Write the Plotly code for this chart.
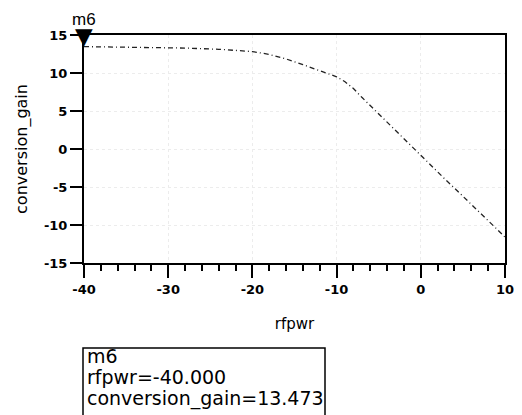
import plotly.graph_objects as go

# ---- data ----
rfpwr = [-40, -36, -32, -28, -24, -22, -20, -18, -16, -14, -12, -10, -9, -8, -7, -6,
         -5, -4, -3, -2, -1, 0, 1, 2, 3, 4, 5, 6, 7, 8, 9, 10]
conversion_gain = [13.473, 13.44, 13.38, 13.28, 13.12, 13.0, 12.82, 12.45, 11.85, 11.1,
                   10.3, 9.5, 8.85, 7.95, 6.8, 5.7, 4.6, 3.5, 2.4, 1.3, 0.2, -0.9,
                   -2.0, -3.05, -4.1, -5.15, -6.2, -7.25, -8.3, -9.4, -10.5, -11.6]
x_ticks = [-40, -30, -20, -10, 0, 10]
y_ticks = [-15, -10, -5, 0, 5, 10, 15]
marker_name = "m6"
marker_idx = 0

mx = rfpwr[marker_idx]
my = conversion_gain[marker_idx]

# page has an 8px body margin; figure is offset by it
OFF = 8
W, H = 522 - OFF, 415 - OFF
# desired plot area in page pixels: x 84..505, y 35..263
L, R, T, B = 84 - OFF, 505 - OFF, 35 - OFF, 263 - OFF
def px(xp):
    return (xp - OFF - L) / (R - L)
def py(yp):
    return (B - (yp - OFF)) / (B - T)

fig = go.Figure()
fig.add_trace(go.Scatter(
    x=rfpwr, y=conversion_gain, mode="lines",
    line=dict(color="#222222", width=1.3, dash="5px,3px,1px,3px"),
    showlegend=False, hoverinfo="skip"))

tick_font = dict(family="DejaVu Sans", size=13, color="black", weight="bold")

fig.update_layout(
    width=W, height=H,
    margin=dict(l=L, r=W - R, t=T, b=H - B, pad=0),
    paper_bgcolor="white", plot_bgcolor="white",
    xaxis=dict(range=[-40, 10], tickvals=x_ticks, ticktext=[str(v) for v in x_ticks],
               ticks="outside", ticklen=13, tickwidth=1.5, tickcolor="black",
               showline=True, linewidth=2, linecolor="black", mirror=True,
               showgrid=True, gridcolor="#ececec", griddash="dot", gridwidth=1,
               zeroline=False, tickfont=tick_font,
               minor=dict(dtick=2, ticks="outside", ticklen=6, tickwidth=1.5,
                          tickcolor="black", showgrid=False),
               title=dict(text="rfpwr", font=dict(family="DejaVu Sans", size=15, color="black"),
                          standoff=23),
               automargin=False),
    yaxis=dict(range=[-15, 15], tickvals=y_ticks, ticktext=[str(v) for v in y_ticks],
               ticks="outside", ticklen=12, tickwidth=1.5, tickcolor="black",
               showline=True, linewidth=2, linecolor="black", mirror=True,
               showgrid=True, gridcolor="#ececec", griddash="dot", gridwidth=1,
               zeroline=False, tickfont=tick_font,
               title=dict(text="conversion_gain", font=dict(family="DejaVu Sans", size=16, color="black"),
                          standoff=12),
               automargin=False),
)

# marker triangle and name
fig.add_annotation(x=mx, y=my, xref="x", yref="y", text="▼", showarrow=False,
                   font=dict(family="DejaVu Sans", size=23, color="black"),
                   xanchor="center", yanchor="bottom", yshift=-4)
fig.add_annotation(x=mx, y=my, xref="x", yref="y", text=marker_name, showarrow=False,
                   font=dict(family="Liberation Sans", size=17, color="black"),
                   xanchor="center", yanchor="bottom", yshift=16)

# readout box
fig.add_shape(type="rect", xref="paper", yref="paper",
              x0=px(83), x1=px(325), y0=py(348), y1=py(430),
              line=dict(color="black", width=1.5), fillcolor="rgba(0,0,0,0)")
lines = [marker_name, f"rfpwr={mx:.3f}", f"conversion_gain={my:.3f}"]
mids = [356, 377, 398]
for txt, m in zip(lines, mids):
    fig.add_annotation(x=px(85), y=py(m), xref="paper", yref="paper", text=txt,
                       showarrow=False, xanchor="left", yanchor="middle",
                       font=dict(family="DejaVu Sans", size=19, color="black"))

fig.write_html("out.html")
